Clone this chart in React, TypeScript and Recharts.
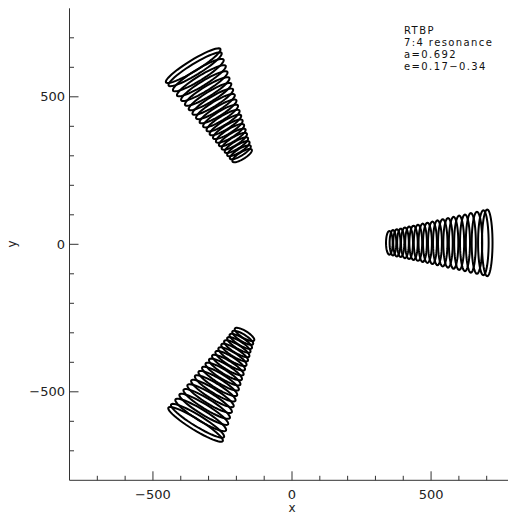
import React from 'react';
import { ScatterChart, Scatter, XAxis, YAxis } from 'recharts';

// ---- data ----
const lobeAngles = [0, 120, 240]; // direction of each lobe (degrees)
const loopRadius = [350, 363, 377, 391, 406, 421, 437, 453, 470, 487, 505, 523, 542, 561, 581, 601, 622, 643, 665, 688, 702];
const loopHalfLength = [40, 43, 46, 48, 52, 55, 58, 61, 65, 68, 72, 76, 80, 84, 88, 92, 96, 101, 105, 110, 113];
const loopHalfWidth = [12, 12, 13, 13, 14, 14, 15, 15, 15, 16, 16, 16, 17, 17, 17, 18, 18, 18, 19, 19, 19];
const loopOffset = 5;
const axisTicks = [-700, -600, -500, -400, -300, -200, -100, 0, 100, 200, 300, 400, 500, 600, 700];
const majorTicks = [-500, 0, 500];
const axisDomain = [-800, 800];
const noteLines = ['RTBP', '7:4 resonance', 'a=0.692', 'e=0.17\u22120.34'];
const frameCorners = [{ x: -800, y: -800 }, { x: 800, y: 800 }];

// ---- loop outlines built from the table above ----
const SEG = 48;
const loops = lobeAngles.flatMap((deg, li) => {
  const th = (deg * Math.PI) / 180;
  const ux = Math.cos(th), uy = Math.sin(th);
  const tx = -Math.sin(th), ty = Math.cos(th);
  return loopRadius.map((r, i) => {
    const pts: { x: number; y: number }[] = [];
    for (let k = 0; k <= SEG; k++) {
      const phi = (2 * Math.PI * k) / SEG;
      const a = r + loopHalfWidth[i] * Math.cos(phi);
      const b = loopOffset + loopHalfLength[i] * Math.sin(phi);
      pts.push({ x: a * ux + b * tx, y: a * uy + b * ty });
    }
    return { key: `l${li}-${i}`, pts };
  });
});

const MAJOR = 9;
const MINOR = 4.5;
const TS = 0.01;
const AX = '#333';
const FONT = '"DejaVu Sans", sans-serif';
const fmt = (v: number) => (v < 0 ? `\u2212${-v}` : `${v}`);

const Empty = () => <g />;

const BottomTick = (p: any) => {
  const { x, payload } = p;
  const y = p.y - 2 * TS;
  const v = payload.value;
  const major = majorTicks.includes(v);
  return (
    <g>
      <line x1={x} x2={x} y1={y} y2={y - (major ? MAJOR : MINOR)} stroke={AX} strokeWidth={1} />
      {major && (
        <text x={x} y={y + 18.5} textAnchor="middle" fontSize={13} fontFamily={FONT} fill="#222">
          {fmt(v)}
        </text>
      )}
    </g>
  );
};

const TopTick = (p: any) => {
  const { x, payload } = p;
  const y = p.y + 2 * TS;
  const major = majorTicks.includes(payload.value);
  return <line x1={x} x2={x} y1={y} y2={y + (major ? MAJOR : MINOR)} stroke={AX} strokeWidth={1} />;
};

const LeftTick = (p: any) => {
  const { y, payload } = p;
  const x = p.x + 2 * TS;
  const v = payload.value;
  const major = majorTicks.includes(v);
  return (
    <g>
      <line x1={x} x2={x + (major ? MAJOR : MINOR)} y1={y} y2={y} stroke={AX} strokeWidth={1} />
      {major && (
        <text x={x - 4.5} y={y} dy="0.36em" textAnchor="end" fontSize={13} fontFamily={FONT} fill="#222">
          {fmt(v)}
        </text>
      )}
    </g>
  );
};

export default function App() {
  return (
    <div style={{ position: 'absolute', left: 0, top: 0, width: 508, height: 518, overflow: 'hidden', background: '#fff' }}>
      <ScatterChart width={530} height={518} margin={{ top: 8.3, right: 15.5, bottom: 7.7, left: 0 }}>
        <XAxis
          xAxisId={0}
          type="number"
          dataKey="x"
          domain={axisDomain}
          allowDataOverflow
          ticks={axisTicks}
          interval={0}
          height={30}
          tickSize={TS}
          tickMargin={TS}
          tickLine={false}
          tick={<BottomTick />}
          axisLine={{ stroke: AX, strokeWidth: 1 }}
        />
        <XAxis
          xAxisId="top"
          orientation="top"
          type="number"
          dataKey="x"
          domain={axisDomain}
          allowDataOverflow
          ticks={axisTicks}
          interval={0}
          height={0}
          tickSize={TS}
          tickMargin={TS}
          tickLine={false}
          tick={<TopTick />}
          axisLine={{ stroke: AX, strokeWidth: 1 }}
        />
        <YAxis
          yAxisId={0}
          type="number"
          dataKey="y"
          domain={axisDomain}
          allowDataOverflow
          ticks={axisTicks}
          interval={0}
          width={69.5}
          tickSize={TS}
          tickMargin={TS}
          tickLine={false}
          tick={<LeftTick />}
          axisLine={{ stroke: AX, strokeWidth: 1 }}
        />
        <Scatter
          xAxisId="top"
          yAxisId={0}
          data={frameCorners}
          shape={<Empty />}
          isAnimationActive={false}
          legendType="none"
        />
        {loops.map((l) => (
          <Scatter
            key={l.key}
            xAxisId={0}
            yAxisId={0}
            data={l.pts}
            line={{ stroke: '#000', strokeWidth: 2 }}
            lineType="joint"
            shape={<Empty />}
            isAnimationActive={false}
            legendType="none"
          />
        ))}
      </ScatterChart>
      <div
        style={{
          position: 'absolute',
          left: 404,
          top: 25.4,
          fontFamily: FONT,
          fontSize: 10,
          lineHeight: '11.7px',
          letterSpacing: '1.4px',
          color: '#111',
          whiteSpace: 'pre',
        }}
      >
        {noteLines.map((t) => (
          <div key={t}>{t}</div>
        ))}
      </div>
      <div
        style={{
          position: 'absolute',
          left: 287,
          top: 503,
          width: 10,
          height: 11,
          textAlign: 'center',
          fontFamily: FONT,
          fontSize: 12,
          lineHeight: '10px',
          color: '#222',
        }}
      >
        x
      </div>
      <div
        style={{
          position: 'absolute',
          left: 5,
          top: 237,
          width: 14,
          height: 14,
          textAlign: 'center',
          fontFamily: FONT,
          fontSize: 12,
          lineHeight: '14px',
          color: '#222',
          transform: 'rotate(-90deg)',
        }}
      >
        y
      </div>
    </div>
  );
}
